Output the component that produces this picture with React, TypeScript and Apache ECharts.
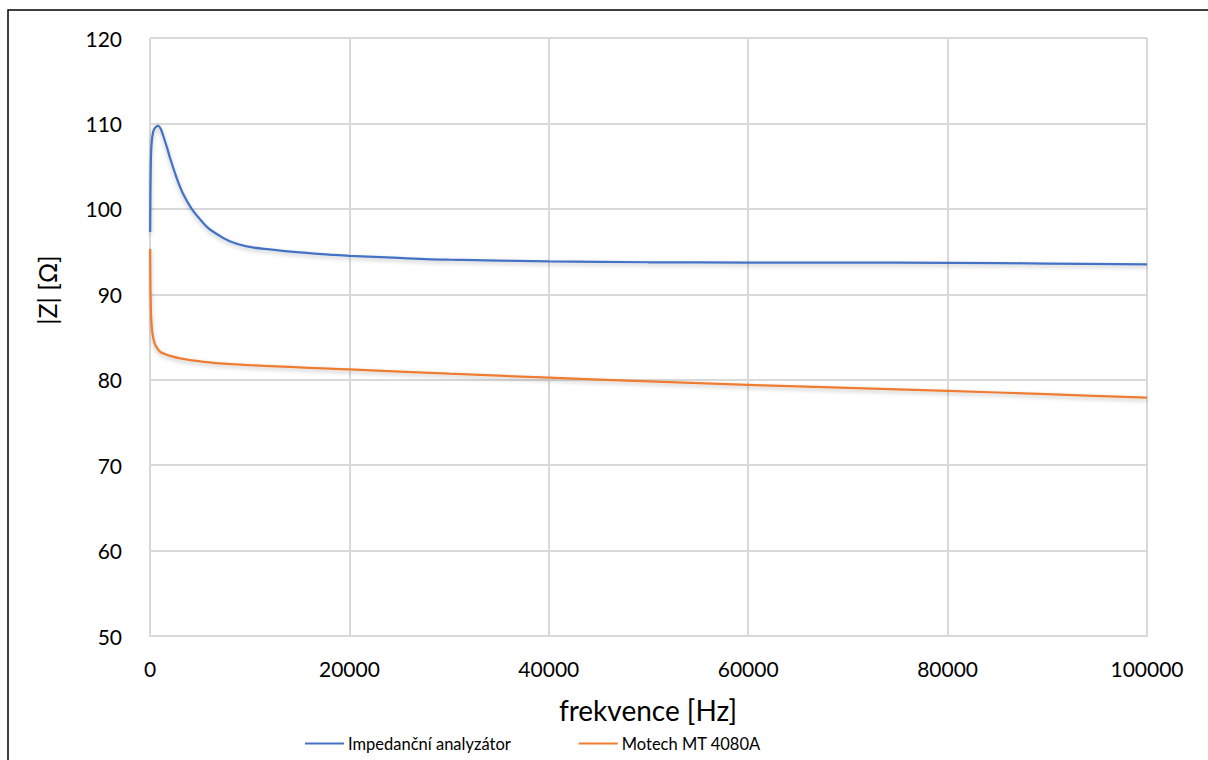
import React, { useEffect, useRef } from "react";
import * as echarts from "echarts";

const seriesNames = ["Impedanční analyzátor", "Motech MT 4080A"];
const blueFreq = [20, 40, 70, 100, 150, 250, 400, 600, 830, 1100, 1340, 1700, 2000, 2680, 3340, 4180, 5000, 5700, 6500, 8000, 9700, 12000, 15000, 18000, 20000, 25000, 30000, 40000, 50000, 60000, 70000, 80000, 90000, 100000];
const blueZ = [97.3, 101.5, 104.5, 106.2, 107.5, 108.6, 109.3, 109.6, 109.7, 109.3, 108.5, 107.2, 106.0, 103.6, 101.7, 100.0, 98.8, 97.9, 97.2, 96.2, 95.6, 95.25, 94.9, 94.65, 94.5, 94.25, 94.05, 93.85, 93.75, 93.72, 93.7, 93.68, 93.6, 93.5];
const orangeFreq = [20, 40, 70, 100, 150, 250, 400, 600, 1000, 1500, 2000, 3000, 4700, 7000, 10000, 14000, 18000, 20000, 30000, 40000, 50000, 60000, 70000, 80000, 90000, 100000];
const orangeZ = [95.3, 91.5, 89.2, 87.8, 86.6, 85.4, 84.5, 83.9, 83.3, 83.0, 82.8, 82.5, 82.2, 81.9, 81.7, 81.5, 81.3, 81.2, 80.7, 80.25, 79.8, 79.4, 79.05, 78.7, 78.3, 77.9];

const xTicks = { min: 0, max: 100000, interval: 20000 };
const yTicks = { min: 50, max: 120, interval: 10 };

const FONT = "Lato";

export default function App() {
  const ref = useRef<HTMLDivElement>(null);
  useEffect(() => {
    if (!ref.current) return;
    const chart = echarts.init(ref.current, undefined, { renderer: "svg" });
    const shadow = { shadowColor: "rgba(0,0,0,0.25)", shadowBlur: 4, shadowOffsetY: 2 };
    chart.setOption({
      animation: false,
      backgroundColor: "#ffffff",
      textStyle: { fontFamily: FONT },
      grid: { left: 150, top: 38, right: 61, bottom: 124 },
      xAxis: {
        type: "value",
        min: xTicks.min,
        max: xTicks.max,
        interval: xTicks.interval,
        axisLine: { show: true, lineStyle: { color: "#d9d9d9", width: 2 } },
        axisTick: { show: false },
        axisLabel: { color: "#000", fontSize: 21, fontFamily: FONT, margin: 22, formatter: (v: number) => String(v) },
        splitLine: { show: true, lineStyle: { color: "#d9d9d9", width: 2 } },
      },
      yAxis: {
        type: "value",
        min: yTicks.min,
        max: yTicks.max,
        interval: yTicks.interval,
        axisLine: { show: false },
        axisTick: { show: false },
        axisLabel: { color: "#000", fontSize: 21, fontFamily: FONT, margin: 28 },
        splitLine: { show: true, lineStyle: { color: "#d9d9d9", width: 2 } },
      },
      legend: {
        show: true,
        left: 300,
        top: 730,
        itemWidth: 39,
        itemHeight: 2,
        itemGap: 68,
        icon: "rect",
        textStyle: { color: "#000", fontSize: 16.5, fontFamily: FONT, padding: [0, 0, 0, -1] },
        data: seriesNames,
      },
      graphic: [
        {
          type: "rect",
          shape: { x: 8, y: 10, width: 1220, height: 800 },
          style: { fill: "none", stroke: "#000", lineWidth: 1.5 },
          silent: true,
        },
        {
          type: "text",
          x: 648,
          y: 710,
          style: { text: "frekvence [Hz]", fill: "#000", font: `28px ${FONT}`, align: "center", verticalAlign: "middle" },
        },
        {
          type: "text",
          x: 47,
          y: 290,
          rotation: Math.PI / 2,
          style: { text: "|Z| [Ω]", fill: "#000", font: `25px ${FONT}`, align: "center", verticalAlign: "middle" },
        },
      ],
      series: [
        {
          name: seriesNames[0],
          type: "line",
          smooth: 0.35,
          showSymbol: false,
          data: blueFreq.map((f, i) => [f, blueZ[i]]),
          lineStyle: { color: "#4472c4", width: 2.25, ...shadow },
          itemStyle: { color: "#4472c4" },
        },
        {
          name: seriesNames[1],
          type: "line",
          smooth: 0.35,
          showSymbol: false,
          data: orangeFreq.map((f, i) => [f, orangeZ[i]]),
          lineStyle: { color: "#ed7d31", width: 2.25, ...shadow },
          itemStyle: { color: "#ed7d31" },
        },
      ],
    });
    return () => chart.dispose();
  }, []);
  return (
    <div style={{ position: "absolute", left: 0, top: 0, width: 1208, height: 760 }}>
      <div ref={ref} style={{ width: 1208, height: 760 }} />
    </div>
  );
}
